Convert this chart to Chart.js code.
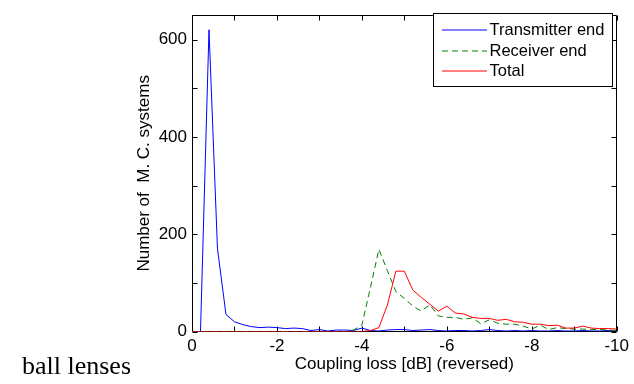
<!DOCTYPE html>
<html>
<head>
<meta charset="utf-8">
<title>Coupling loss</title>
<script src="https://cdn.jsdelivr.net/npm/chart.js@4.4.1/dist/chart.umd.min.js"></script>
<style>
  html, body { margin: 0; padding: 0; background: #fff; }
  #wrap { position: relative; width: 634px; height: 384px; }
  #caption {
    position: absolute; left: 22px; top: 353px;
    font: 26px/26px "Liberation Serif", "Times New Roman", serif; color: #000;
  }
</style>
</head>
<body>
<div id="wrap">
  <canvas id="loss-chart" width="634" height="384"></canvas>
  <div id="caption">ball lenses</div>
</div>
<script>
// coupling loss bins [dB], 0.2 dB apart
const lossDb = [
    0, -0.2, -0.4, -0.6, -0.8, -1.0, -1.2, -1.4, -1.6, -1.8,
    -2.0, -2.2, -2.4, -2.6, -2.8, -3.0, -3.2, -3.4, -3.6, -3.8,
    -4.0, -4.2, -4.4, -4.6, -4.8, -5.0, -5.2, -5.4, -5.6, -5.8,
    -6.0, -6.2, -6.4, -6.6, -6.8, -7.0, -7.2, -7.4, -7.6, -7.8,
    -8.0, -8.2, -8.4, -8.6, -8.8, -9.0, -9.2, -9.4, -9.6, -9.8, -10.0
];

// number of Monte Carlo systems per bin
const transmitterEnd = [
    0, 0, 620, 170, 35, 20, 14, 10, 8, 9,
    8, 6, 7, 6, 2, 4, 1, 3, 3, 2,
    7, 2, 1, 3, 4, 4, 2, 3, 4, 2,
    1, 2, 2, 1, 2, 4, 2, 1, 2, 1,
    2, 1, 1, 2, 1, 1, 2, 1, 1, 2, 1
];
const receiverEnd = [
    0, 0, 0, 0, 0, 0, 0, 0, 0, 0,
    0, 0, 0, 0, 0, 0, 0, 0, 0, 3,
    13, 90, 169, 125, 82, 68, 52, 42, 55, 32,
    29, 29, 25, 28, 16, 24, 17, 15, 15, 11,
    5, 13, 4, 8, 6, 5, 5, 4, 4, 3, 2
];
const total = [
    0, 0, 0, 0, 0, 0, 0, 0, 0, 0,
    0, 0, 0, 0, 0, 0, 0, 0, 0, 0,
    0, 2, 8, 54, 124, 124, 85, 70, 56, 42,
    52, 38, 36, 29, 27, 27, 23, 25, 20, 19,
    15, 15, 12, 13, 7, 7, 11, 7, 6, 6, 5
];

const seriesNames = ['Transmitter end', 'Receiver end', 'Total'];
const xTickStep = 1;
const yTickStep = 100;

function toPoints(values) {
    return values.map((v, i) => ({ x: lossDb[i], y: v }));
}

// box around the plot with inward ticks on all four sides
const boxAxes = {
    id: 'boxAxes',
    beforeDatasetsDraw(chart) {
        const { ctx, chartArea: a, scales } = chart;
        const L = Math.floor(a.left) + 0.5, R = Math.floor(a.right) + 0.5;
        const T = Math.floor(a.top) + 0.5, B = Math.floor(a.bottom) + 0.5;
        const len = 5;
        ctx.save();
        ctx.strokeStyle = '#000';
        ctx.lineWidth = 1;
        ctx.beginPath();
        ctx.rect(L, T, R - L, B - T);
        scales.x.ticks.forEach(t => {
            const px = Math.round(scales.x.getPixelForValue(t.value)) + 0.5;
            ctx.moveTo(px, B); ctx.lineTo(px, B - len);
            ctx.moveTo(px, T); ctx.lineTo(px, T + len);
        });
        scales.y.ticks.forEach(t => {
            if (t.value % yTickStep !== 0) return;
            const py = Math.round(scales.y.getPixelForValue(t.value)) + 0.5;
            ctx.moveTo(L, py); ctx.lineTo(L + len, py);
            ctx.moveTo(R, py); ctx.lineTo(R - len, py);
        });
        ctx.stroke();
        ctx.restore();
    }
};

// framed legend in the upper right corner
const boxLegend = {
    id: 'boxLegend',
    afterDraw(chart) {
        const ctx = chart.ctx;
        const x = 433.5, y = 13.5, w = 179, h = 73;
        const rows = [30, 51, 71];
        ctx.save();
        ctx.fillStyle = '#fff';
        ctx.fillRect(x, y, w, h);
        ctx.strokeStyle = '#000';
        ctx.lineWidth = 1;
        ctx.strokeRect(x, y, w, h);
        ctx.font = '16.5px "Liberation Sans", Arial, sans-serif';
        ctx.textBaseline = 'middle';
        chart.data.datasets.forEach((ds, i) => {
            ctx.beginPath();
            ctx.strokeStyle = ds.borderColor;
            ctx.lineWidth = ds.borderWidth;
            ctx.setLineDash(ds.borderDash || []);
            ctx.moveTo(442, rows[i]);
            ctx.lineTo(487, rows[i]);
            ctx.stroke();
            ctx.setLineDash([]);
            ctx.fillStyle = '#000';
            ctx.fillText(ds.label, 489.5, rows[i]);
        });
        ctx.restore();
    }
};

Chart.defaults.font.family = '"Liberation Sans", Arial, Helvetica, sans-serif';
Chart.defaults.font.size = 17;
Chart.defaults.color = '#000';

const ctx = document.getElementById('loss-chart').getContext('2d');

const lossChart = new Chart(ctx, {
    type: 'line',
    data: {
        datasets: [
            {
                label: seriesNames[0],
                data: toPoints(transmitterEnd),
                borderColor: '#0000ff',
                borderWidth: 1,
                order: 3
            },
            {
                label: seriesNames[1],
                data: toPoints(receiverEnd),
                borderColor: '#008000',
                borderWidth: 1,
                borderDash: [6, 4],
                order: 2
            },
            {
                label: seriesNames[2],
                data: toPoints(total),
                borderColor: '#ff0000',
                borderWidth: 1,
                order: 1
            }
        ]
    },
    options: {
        responsive: false,
        animation: false,
        devicePixelRatio: 1,
        layout: { padding: { top: 6, right: 13, left: 0, bottom: 0 } },
        elements: {
            point: { radius: 0 },
            line: { tension: 0, fill: false }
        },
        plugins: {
            legend: { display: false },
            tooltip: { enabled: false }
        },
        scales: {
            x: {
                type: 'linear',
                min: -10,
                max: 0,
                reverse: true,
                grid: { display: false, drawTicks: false },
                border: { display: false },
                ticks: {
                    stepSize: xTickStep,
                    autoSkip: false,
                    maxRotation: 0,
                    padding: 5,
                    callback: v => (v % 2 === 0 ? String(v) : '')
                },
                title: {
                    display: true,
                    text: 'Coupling loss [dB] (reversed)',
                    font: { size: 17 },
                    padding: { top: 0, bottom: 9 }
                },
                afterFit: s => { s.height = 52.5; }
            },
            y: {
                min: 0,
                max: 650,
                grid: { display: false, drawTicks: false },
                border: { display: false },
                ticks: {
                    stepSize: yTickStep,
                    padding: 5,
                    callback: v => (v % 200 === 0 ? String(v) : '')
                },
                title: {
                    display: true,
                    text: 'Number of  M. C. systems',
                    font: { size: 17 },
                    padding: { top: 134, bottom: 0 }
                },
                afterFit: s => { s.width = 192; }
            }
        }
    },
    plugins: [boxAxes, boxLegend]
});
</script>
</body>
</html>
